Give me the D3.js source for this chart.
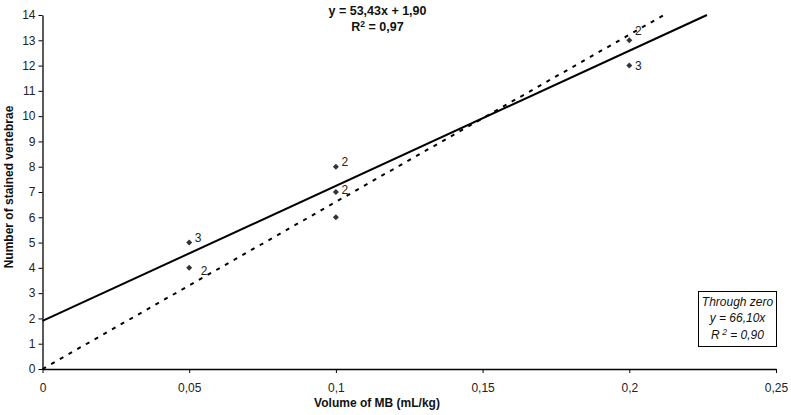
<!DOCTYPE html>
<html><head><meta charset="utf-8">
<script src="https://cdn.jsdelivr.net/npm/d3@7"></script>
<style>
body{margin:0;background:#fff;}
svg{display:block;font-family:"Liberation Sans",Arial,sans-serif;}
</style></head>
<body><svg id="c" width="791" height="415"></svg>
<script>
// Data
const xValues = [0.05, 0.05, 0.1, 0.1, 0.1, 0.2, 0.2];
const yValues = [5, 4, 8, 7, 6, 13, 12];
const countLabels = ["3", "2", "2", "2", "", "2", "3"];
const labelDx = [9, 15, 9, 9, 0, 9, 9];
const labelDy = [-5, 3, -5, -2, 0, -9, 0];
const xTicks = [0, 0.05, 0.1, 0.15, 0.2, 0.25];
const xTickLabels = ["0", "0,05", "0,1", "0,15", "0,2", "0,25"];
const yTicks = d3.range(0, 15);
const fitSlope = 53.43, fitIntercept = 1.90;
const zeroSlope = 66.10;

const svg = d3.select("#c");
const x = d3.scaleLinear().domain([0, 0.25]).range([42.5, 776]);
const y = d3.scaleLinear().domain([0, 14]).range([369, 15]);

// axes
const xa = svg.append("g").attr("transform", `translate(0,${y(0)})`)
  .call(d3.axisBottom(x).tickValues(xTicks).tickFormat((d,i)=>xTickLabels[i]).tickSize(4).tickSizeOuter(0).tickPadding(10));
const ya = svg.append("g").attr("transform", `translate(${x(0)},0)`)
  .call(d3.axisLeft(y).tickValues(yTicks).tickSize(4).tickSizeOuter(0).tickPadding(3));
[xa, ya].forEach(g=>{
  g.select(".domain").attr("stroke","#000").attr("stroke-width",1.3);
  g.selectAll(".tick line").attr("stroke","#000");
  g.selectAll(".tick text").attr("font-size",12).attr("fill","#222").attr("font-family","Liberation Sans, Arial, sans-serif");
});

// trend lines
const xEndFit = (14 - fitIntercept) / fitSlope;
svg.append("line")
  .attr("x1", x(0)).attr("y1", y(fitIntercept))
  .attr("x2", x(xEndFit)).attr("y2", y(14))
  .attr("stroke","#000").attr("stroke-width",2);
const xEndZero = 14 / zeroSlope;
svg.append("line")
  .attr("x1", x(0)).attr("y1", y(0))
  .attr("x2", x(xEndZero)).attr("y2", y(14))
  .attr("stroke","#000").attr("stroke-width",2).attr("stroke-dasharray","4,6");

// points
const sym = d3.symbol().type(d3.symbolSquare).size(18);
xValues.forEach((xv,i)=>{
  svg.append("path").attr("d", sym)
    .attr("transform", `translate(${x(xv)},${y(yValues[i])}) rotate(45)`)
    .attr("fill","#333");
  if (countLabels[i]) {
    svg.append("text").attr("x", x(xv)+labelDx[i]).attr("y", y(yValues[i])+labelDy[i])
      .attr("text-anchor","middle").attr("dominant-baseline","central")
      .attr("font-size",12).attr("fill","#222").text(countLabels[i]);
  }
});

// axis titles
svg.append("text").attr("x", 377).attr("y", 407).attr("text-anchor","middle")
  .attr("font-size",12).attr("font-weight","bold").attr("fill","#111").text("Volume of MB (mL/kg)");
svg.append("text").attr("transform","translate(13,187) rotate(-90)").attr("text-anchor","middle")
  .attr("font-size",12).attr("font-weight","bold").attr("fill","#111").text("Number of stained vertebrae");

// equation
svg.append("text").attr("x",377.5).attr("y",14.5).attr("text-anchor","middle")
  .attr("font-size",12.5).attr("font-weight","bold").attr("fill","#111").text("y = 53,43x + 1,90");
const r = svg.append("text").attr("x",377.5).attr("y",31).attr("text-anchor","middle")
  .attr("font-size",12.5).attr("font-weight","bold").attr("fill","#111");
r.append("tspan").text("R");
r.append("tspan").attr("dy",-4).attr("font-size",8.5).text("2");
r.append("tspan").attr("dy",4).text(" = 0,97");

// through zero box
svg.append("rect").attr("x",698.5).attr("y",291.5).attr("width",78).attr("height",55)
  .attr("fill","#fff").attr("stroke","#000").attr("stroke-width",1);
const bx = 737.5;
svg.append("text").attr("x",bx).attr("y",306).attr("text-anchor","middle").attr("font-style","italic")
  .attr("font-size",12).attr("fill","#111").text("Through zero");
svg.append("text").attr("x",bx).attr("y",322).attr("text-anchor","middle").attr("font-style","italic")
  .attr("font-size",12).attr("fill","#111").text("y = 66,10x");
const r2 = svg.append("text").attr("x",bx).attr("y",339).attr("text-anchor","middle").attr("font-style","italic")
  .attr("font-size",12).attr("fill","#111");
r2.append("tspan").text("R");
r2.append("tspan").attr("dy",-4).attr("font-size",8.5).text(" 2");
r2.append("tspan").attr("dy",4).text("  = 0,90");
</script></body></html>
